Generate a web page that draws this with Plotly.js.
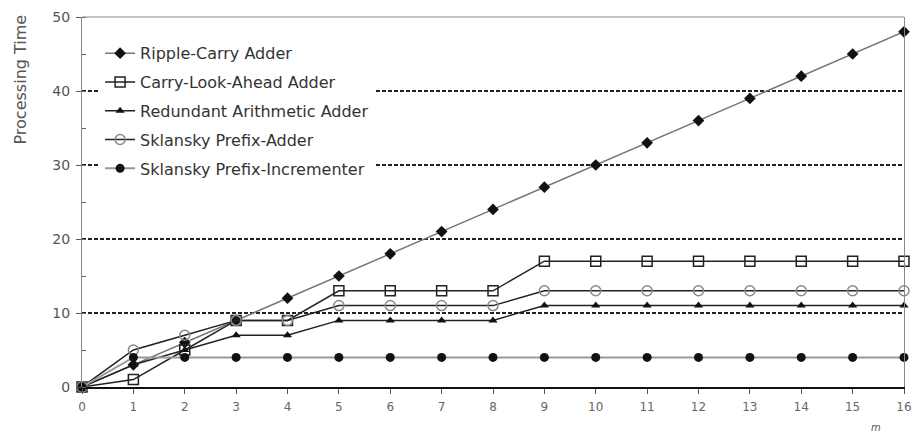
<!DOCTYPE html>
<html>
<head>
<meta charset="utf-8">
<script src="https://cdn.plot.ly/plotly-3.0.1.min.js"></script>
<style>html,body{margin:0;padding:0;background:#fff}#chart{width:920px;height:433px}</style>
</head>
<body>
<div id="chart"></div>
<script>
const m = [0,1,2,3,4,5,6,7,8,9,10,11,12,13,14,15,16];
const rippleCarry = [0,3,6,9,12,15,18,21,24,27,30,33,36,39,42,45,48];
const carryLookAhead = [0,1,5,9,9,13,13,13,13,17,17,17,17,17,17,17,17];
const redundantArith = [0,3,5,7,7,9,9,9,9,11,11,11,11,11,11,11,11];
const sklanskyAdder = [0,5,7,9,9,11,11,11,11,13,13,13,13,13,13,13,13];
const sklanskyIncr = [0,4,4,4,4,4,4,4,4,4,4,4,4,4,4,4,4];
const names = ["Ripple-Carry Adder","Carry-Look-Ahead Adder","Redundant Arithmetic Adder","Sklansky Prefix-Adder","Sklansky Prefix-Incrementer"];
const yTicks = [0,10,20,30,40,50];

const traces = [
  {x:m, y:rippleCarry, name:names[0], line:{color:'#777',width:1.5},
   marker:{symbol:'diamond',size:9,color:'#111'}},
  {x:m, y:carryLookAhead, name:names[1], line:{color:'#222',width:1.5},
   marker:{symbol:'square-open',size:10,color:'#222',line:{width:1.5}}},
  {x:m, y:redundantArith, name:names[2], line:{color:'#222',width:1.5},
   marker:{symbol:'triangle-up',size:8,color:'#111'}},
  {x:m, y:sklanskyAdder, name:names[3], line:{color:'#222',width:1.5},
   marker:{symbol:'circle-open',size:10,color:'#888',line:{width:1.5}}},
  {x:m, y:sklanskyIncr, name:names[4], line:{color:'#999',width:2},
   marker:{symbol:'circle',size:9,color:'#111'}}
].map((t,i)=>Object.assign(t,{type:'scatter',mode:'lines+markers',cliponaxis:false,legendgroup:'g'+i}));

const layout = {
  width:920, height:433,
  margin:{l:82, r:16, t:17, b:46},
  paper_bgcolor:'#fff', plot_bgcolor:'#fff',
  font:{family:'"DejaVu Sans", Verdana, sans-serif', color:'#444', size:11},
  showlegend:true,
  legend:{x:0.022, y:0.948, xanchor:'left', yanchor:'top', bgcolor:'#fff', borderwidth:0,
          traceorder:'grouped', tracegroupgap:5, itemwidth:30,
          font:{size:16, color:'#333'}},
  xaxis:{range:[0,16], dtick:1, tick0:0, showgrid:false, zeroline:false,
         showline:true, linecolor:'#111', linewidth:2, mirror:false,
         ticks:'outside', ticklen:5, tickcolor:'#555', ticklabelstandoff:3,
         tickfont:{size:12,color:'#666'}},
  yaxis:{range:[0,50], tickvals:yTicks, showgrid:true, gridcolor:'#222', gridwidth:1.2, griddash:'4px,2px',
         zeroline:false, showline:true, linecolor:'#888', linewidth:1, mirror:true,
         ticks:'outside', ticklen:5, tickcolor:'#555', ticklabelstandoff:3,
         tickfont:{size:14,color:'#555'},
         minor:{dtick:5, ticks:'inside', ticklen:4, tickcolor:'#666', showgrid:false}},
  shapes:[{type:'line', xref:'paper', yref:'paper', x0:0, x1:1, y0:1, y1:1, line:{color:'#888', width:1}}],
  annotations:[
    {text:'Processing Time', xref:'paper', yref:'paper', x:-0.075, y:0.832, xanchor:'center', yanchor:'middle',
     textangle:-90, showarrow:false, font:{size:16,color:'#555'}},
    {text:'<i>m</i>', xref:'paper', yref:'paper', x:0.975, y:-0.13, showarrow:false,
     font:{size:10,color:'#555'}}
  ]
};
Plotly.newPlot('chart', traces, layout, {displayModeBar:false, staticPlot:true});
</script>
</body>
</html>
